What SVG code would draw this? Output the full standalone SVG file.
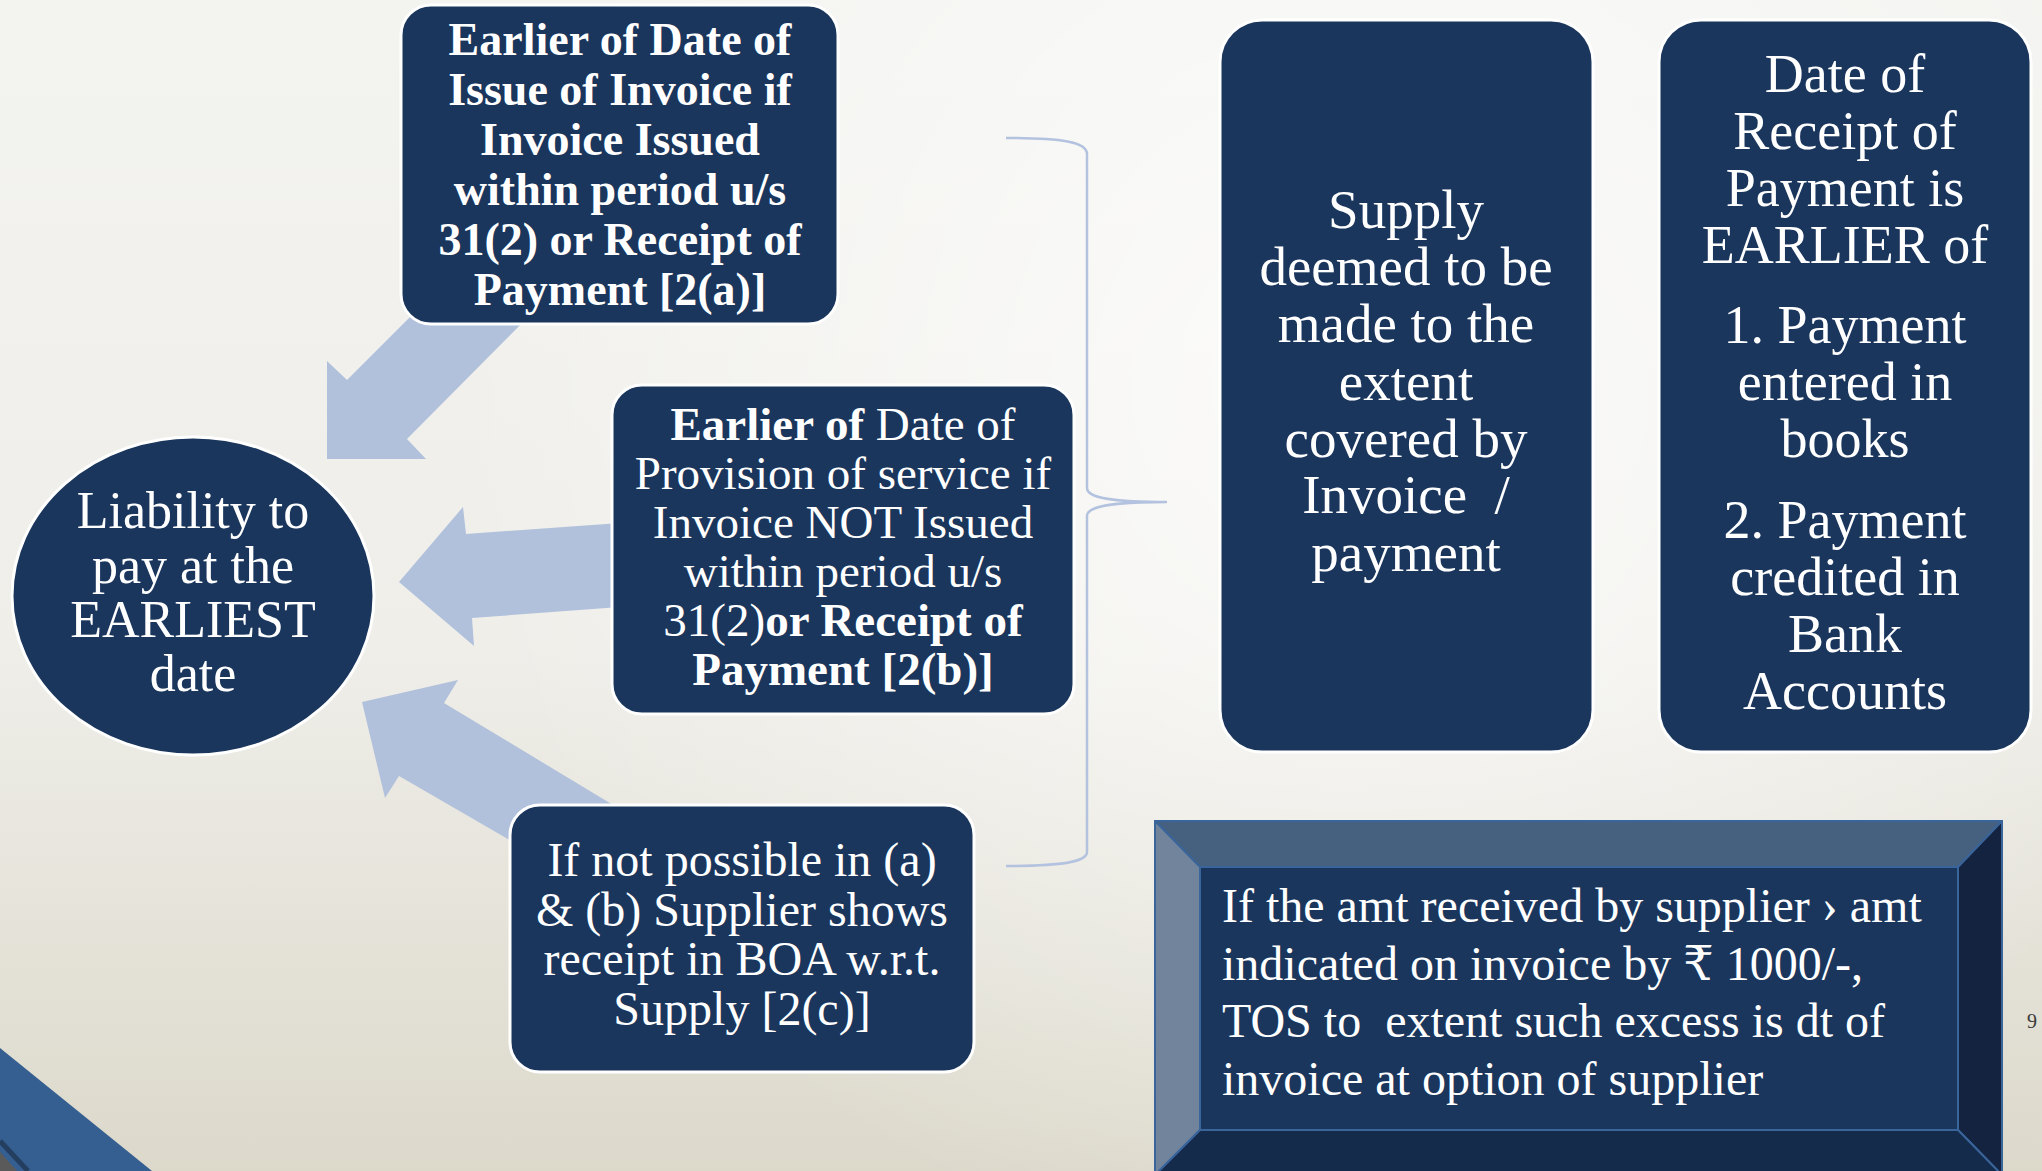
<svg xmlns="http://www.w3.org/2000/svg" width="2042" height="1171" viewBox="0 0 2042 1171">
<defs>
<linearGradient id="bg" x1="0" y1="0" x2="0" y2="1">
<stop offset="0" stop-color="#f3f3f0"/>
<stop offset="0.55" stop-color="#efeee9"/>
<stop offset="1" stop-color="#dcd9cb"/>
</linearGradient>
<radialGradient id="glow" cx="1350" cy="380" r="900" gradientUnits="userSpaceOnUse">
<stop offset="0" stop-color="#ffffff" stop-opacity="0.75"/>
<stop offset="1" stop-color="#ffffff" stop-opacity="0"/>
</radialGradient>
<style>
.box{fill:#1a365d;stroke:#ffffff;stroke-width:3}
.t{font-family:"Liberation Serif","DejaVu Serif",serif;fill:#ffffff;text-anchor:middle}
.tl{font-family:"Liberation Serif","DejaVu Serif",serif;fill:#ffffff}
.b{font-weight:bold}
.arrow{fill:#b1c1dc}
.brace{fill:none;stroke:#b3c2df;stroke-width:2.5}
.bev{stroke:#3a659b;stroke-width:2;stroke-linejoin:round}
</style>
</defs>
<rect x="0" y="0" width="2042" height="1171" fill="url(#bg)"/>
<rect x="0" y="0" width="2042" height="1171" fill="url(#glow)"/>
<polygon points="0,1048 152,1171 0,1171" fill="#365f91"/>
<line x1="0" y1="1141" x2="28" y2="1171" stroke="#243e60" stroke-width="5"/>
<polygon points="0,1152 17,1171 0,1171" fill="#5a5a5a"/>

<g id="connectors">
<polygon class="arrow" points="427,300 545,300 407,439 426,459 327,459 327,361 347,380"/>
<polygon class="arrow" points="620,523 466,534 463,507 399,582 474,646 472,618 620,607"/>
<polygon class="arrow" points="362,702 458,680 444,703 643,823 565,872 399,776 385,798"/>
<path class="brace" d="M1006,138 C1062,138 1087,142 1087,154 L1087,488 C1087,498 1112,502 1167,502 C1112,502 1087,506 1087,516 L1087,852 C1087,862 1062,866 1006,866"/>
</g>

<g id="node-liability">
<ellipse class="box" cx="193" cy="596" rx="181" ry="159"/>
<text class="t" font-size="52"><tspan x="193" y="528">Liability to</tspan><tspan x="193" y="583">pay at the</tspan><tspan x="193" y="637">EARLIEST</tspan><tspan x="193" y="691">date</tspan></text>
</g>

<g id="node-2a">
<rect class="box" x="401" y="5" width="437" height="319" rx="30"/>
<text class="t b" font-size="46"><tspan x="620" y="55">Earlier of Date of</tspan><tspan x="620" y="105">Issue of Invoice if</tspan><tspan x="620" y="155">Invoice Issued</tspan><tspan x="620" y="205">within period u/s</tspan><tspan x="620" y="255">31(2) or Receipt of</tspan><tspan x="620" y="305">Payment [2(a)]</tspan></text>
</g>

<g id="node-2b">
<rect class="box" x="612" y="385" width="462" height="329" rx="30"/>
<text class="t" font-size="47"><tspan x="843" y="440"><tspan class="b">Earlier of</tspan> Date of</tspan><tspan x="843" y="489">Provision of service if</tspan><tspan x="843" y="538">Invoice NOT Issued</tspan><tspan x="843" y="587">within period u/s</tspan><tspan x="843" y="636">31(2)<tspan class="b">or Receipt of</tspan></tspan><tspan x="843" y="685" class="b">Payment [2(b)]</tspan></text>
</g>

<g id="node-2c">
<rect class="box" x="510" y="805" width="464" height="267" rx="30"/>
<text class="t" font-size="48"><tspan x="742" y="876">If not possible in (a)</tspan><tspan x="742" y="926">&amp; (b) Supplier shows</tspan><tspan x="742" y="975">receipt in BOA w.r.t.</tspan><tspan x="742" y="1025">Supply [2(c)]</tspan></text>
</g>

<g id="node-supply">
<rect class="box" x="1220" y="20" width="373" height="732" rx="42"/>
<text class="t" font-size="55"><tspan x="1406" y="228">Supply</tspan><tspan x="1406" y="285">deemed to be</tspan><tspan x="1406" y="342">made to the</tspan><tspan x="1406" y="400">extent</tspan><tspan x="1406" y="457">covered by</tspan><tspan x="1406" y="513">Invoice&#160; /</tspan><tspan x="1406" y="571">payment</tspan></text>
</g>

<g id="node-receipt">
<rect class="box" x="1659" y="20" width="372" height="732" rx="42"/>
<text class="t" font-size="54"><tspan x="1845" y="92">Date of</tspan><tspan x="1845" y="149">Receipt of</tspan><tspan x="1845" y="206">Payment is</tspan><tspan x="1845" y="263">EARLIER of</tspan><tspan x="1845" y="343">1. Payment</tspan><tspan x="1845" y="400">entered in</tspan><tspan x="1845" y="457">books</tspan><tspan x="1845" y="538">2. Payment</tspan><tspan x="1845" y="595">credited in</tspan><tspan x="1845" y="652">Bank</tspan><tspan x="1845" y="709">Accounts</tspan></text>
</g>

<g id="node-excess">
<polygon class="bev" points="1155,821 2002,821 1958,867 1200,867" fill="#46607f"/>
<polygon class="bev" points="1155,821 1200,867 1200,1130 1155,1175" fill="#72849c"/>
<polygon class="bev" points="2002,821 2002,1175 1958,1130 1958,867" fill="#132340"/>
<polygon class="bev" points="1155,1175 1200,1130 1958,1130 2002,1175" fill="#142b4c"/>
<rect x="1200" y="867" width="758" height="263" fill="#1a365d" stroke="#3a659b" stroke-width="2"/>
<text class="tl" font-size="48"><tspan x="1222" y="922">If the amt received by supplier › amt</tspan><tspan x="1222" y="980">indicated on invoice by ₹ 1000/-,</tspan><tspan x="1222" y="1037">TOS to&#160; extent such excess is dt of</tspan><tspan x="1222" y="1095">invoice at option of supplier</tspan></text>
</g>

<text x="2032" y="1028" font-family="Liberation Serif, serif" font-size="20" fill="#3a3a3a" text-anchor="middle">9</text>
</svg>
